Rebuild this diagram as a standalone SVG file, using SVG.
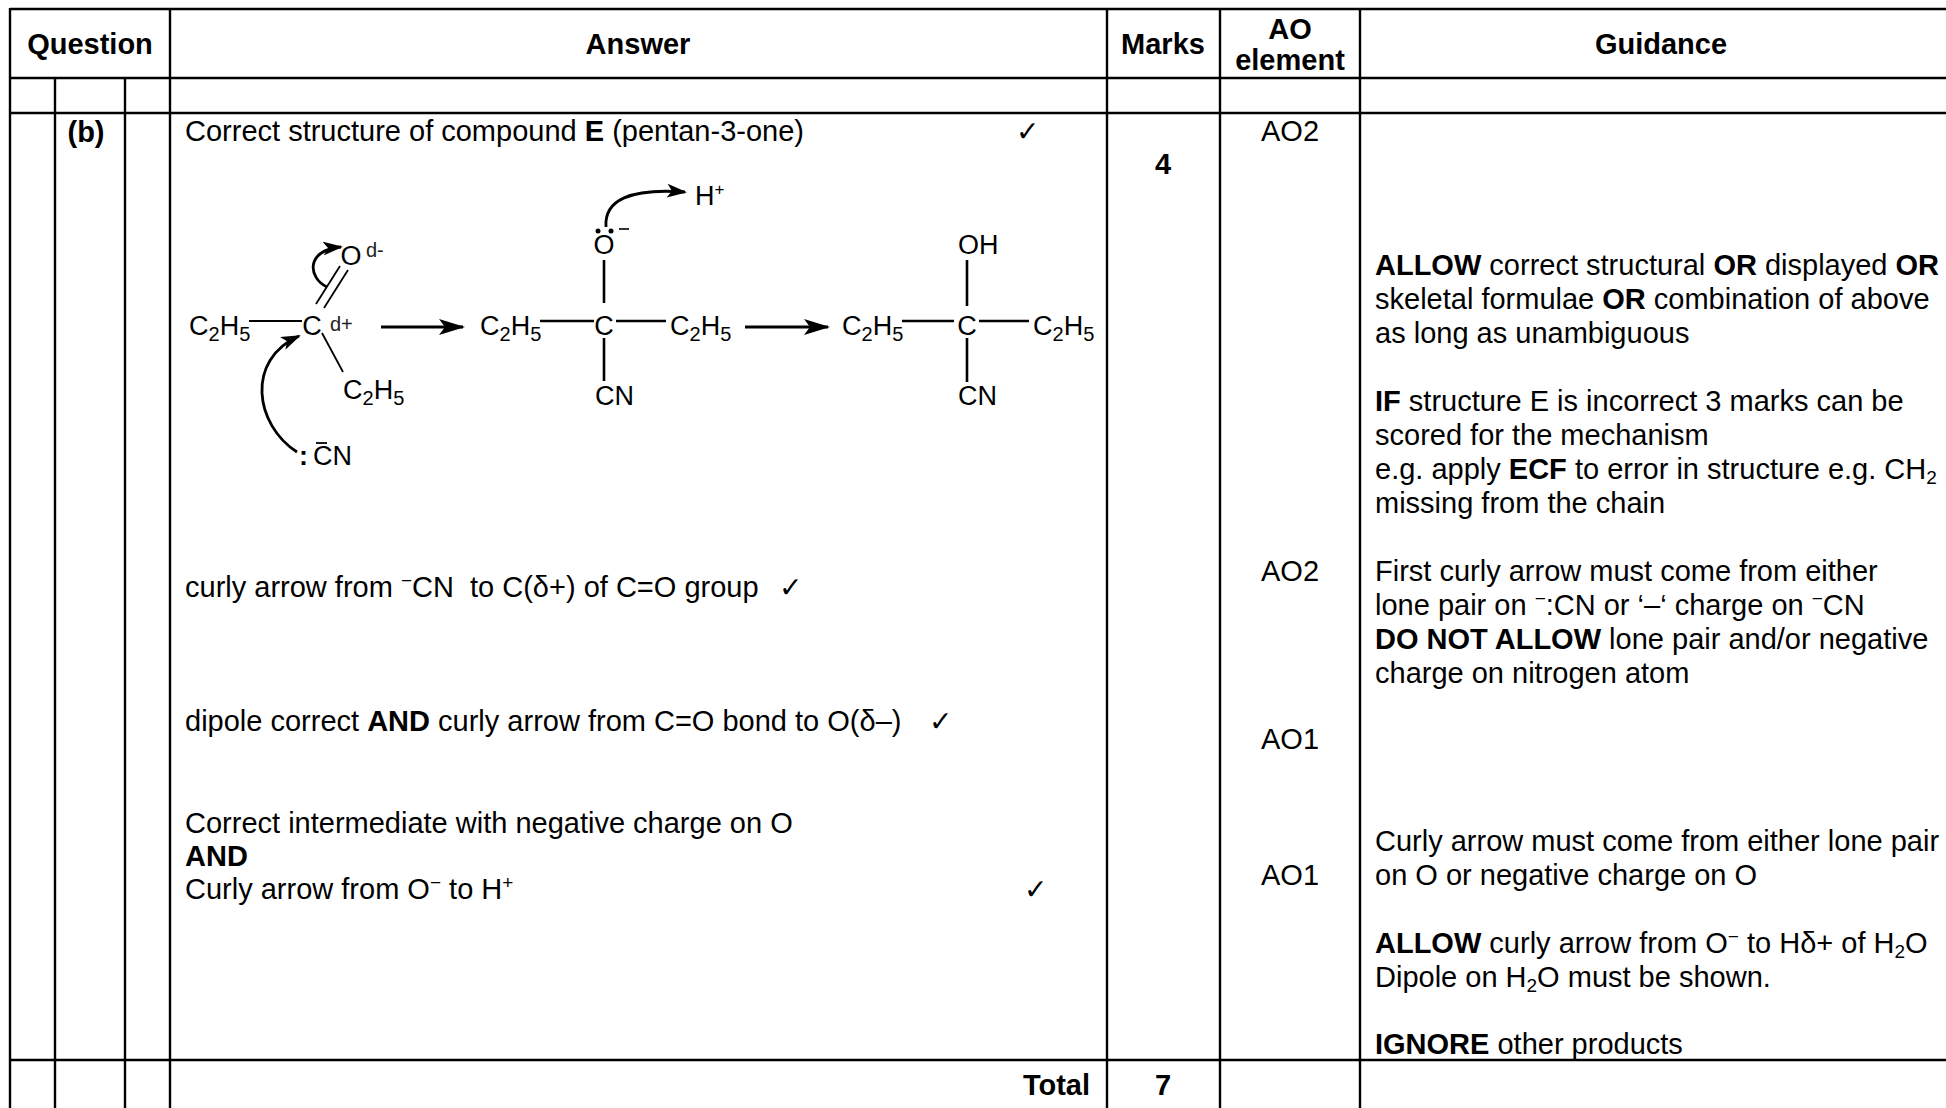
<svg xmlns="http://www.w3.org/2000/svg" width="1946" height="1108" viewBox="0 0 1946 1108">
<defs>
<style>
text{font-family:'Liberation Sans',Arial,sans-serif;fill:#000;white-space:pre}
.t{font-size:29px}
.b{font-weight:bold}
.m{text-anchor:middle}
.e{text-anchor:end}
.ch{font-size:27px}
.dl{font-size:20px;fill:#222}
.ck{font-family:'DejaVu Sans',sans-serif;font-size:28px}
.grid line{stroke:#000;stroke-width:2.4}
.bond{stroke:#000;stroke-width:2.6;fill:none}
.thin{stroke:#000;stroke-width:1.8;fill:none}
.arr{stroke:#000;stroke-width:3;fill:none}
.curly{stroke:#000;stroke-width:2.8;fill:none}
</style>
<marker id="big" viewBox="0 0 26 16" refX="24" refY="8" markerWidth="26" markerHeight="16" markerUnits="userSpaceOnUse" orient="auto">
<path d="M0,0 L26,8 L0,16 L6,8 Z" fill="#000"/>
</marker>
<marker id="head" viewBox="0 0 20 14" refX="18" refY="7" markerWidth="20" markerHeight="14" markerUnits="userSpaceOnUse" orient="auto">
<path d="M0,0 L20,7 L0,14 L5,7 Z" fill="#000"/>
</marker>
</defs>
<rect width="1946" height="1108" fill="#fff"/>

<g id="grid" class="grid">
<line x1="10" y1="9" x2="1946" y2="9"/>
<line x1="10" y1="78" x2="1946" y2="78"/>
<line x1="10" y1="113" x2="1946" y2="113"/>
<line x1="10" y1="1060" x2="1946" y2="1060"/>
<line x1="10" y1="8" x2="10" y2="1108"/>
<line x1="55" y1="78" x2="55" y2="1108"/>
<line x1="125" y1="78" x2="125" y2="1108"/>
<line x1="170" y1="8" x2="170" y2="1108"/>
<line x1="1107" y1="8" x2="1107" y2="1108"/>
<line x1="1220" y1="8" x2="1220" y2="1108"/>
<line x1="1360" y1="8" x2="1360" y2="1108"/>
</g>

<g id="header">
<text class="t b m" x="90" y="54">Question</text>
<text class="t b m" x="638" y="54">Answer</text>
<text class="t b m" x="1163" y="54">Marks</text>
<text class="t b m" x="1290" y="39">AO</text>
<text class="t b m" x="1290" y="70">element</text>
<text class="t b m" x="1661" y="54">Guidance</text>
</g>

<g id="question">
<text class="t b m" x="86" y="142">(b)</text>
</g>

<g id="answer">
<text class="t" x="185" y="141">Correct structure of compound <tspan class="b">E</tspan> (pentan-3-one)</text>
<text class="ck" x="1016" y="141">✓</text>
<text class="t" x="185" y="597">curly arrow from <tspan font-size="19" dy="-10">−</tspan><tspan dy="10">CN  to C(δ+) of C=O group</tspan></text>
<text class="ck" x="779" y="597">✓</text>
<text class="t" x="185" y="731">dipole correct <tspan class="b">AND</tspan> curly arrow from C=O bond to O(δ–)</text>
<text class="ck" x="929" y="731">✓</text>
<text class="t" x="185" y="833">Correct intermediate with negative charge on O</text>
<text class="t b" x="185" y="866">AND</text>
<text class="t" x="185" y="899">Curly arrow from O<tspan font-size="19" dy="-10">−</tspan><tspan dy="10"> to H</tspan><tspan font-size="19" dy="-10">+</tspan></text>
<text class="ck" x="1024" y="899">✓</text>
</g>

<g id="mechanism">
<text class="ch" x="189" y="335">C<tspan font-size="20" dy="6">2</tspan><tspan dy="-6">H</tspan><tspan font-size="20" dy="6">5</tspan></text>
<line class="thin" x1="249" y1="321" x2="302" y2="321"/>
<text class="ch m" x="312" y="335">C</text>
<text class="dl" x="330" y="331">d+</text>
<line class="thin" x1="316" y1="304" x2="340" y2="266"/>
<line class="thin" x1="324" y1="308" x2="348" y2="270"/>
<text class="ch m" x="351" y="265">O</text>
<text class="dl" x="366" y="257">d-</text>
<line class="thin" x1="322" y1="333" x2="343" y2="372"/>
<text class="ch" x="343" y="399">C<tspan font-size="20" dy="6">2</tspan><tspan dy="-6">H</tspan><tspan font-size="20" dy="6">5</tspan></text>
<text class="ch b" x="299" y="465">:</text>
<text class="ch" x="313" y="465">CN</text>
<line class="thin" x1="316" y1="443" x2="327" y2="443"/>
<text class="ch" x="480" y="335">C<tspan font-size="20" dy="6">2</tspan><tspan dy="-6">H</tspan><tspan font-size="20" dy="6">5</tspan></text>
<line class="bond" x1="540" y1="321" x2="594" y2="321"/>
<text class="ch m" x="604" y="335">C</text>
<line class="bond" x1="616" y1="321" x2="666" y2="321"/>
<text class="ch" x="670" y="335">C<tspan font-size="20" dy="6">2</tspan><tspan dy="-6">H</tspan><tspan font-size="20" dy="6">5</tspan></text>
<line class="bond" x1="604" y1="260" x2="604" y2="303"/>
<line class="bond" x1="604" y1="338" x2="604" y2="381"/>
<text class="ch m" x="604" y="254">O</text>
<circle cx="598" cy="231" r="2.5"/>
<circle cx="611" cy="231" r="2.5"/>
<line x1="619" y1="229" x2="629" y2="229" stroke="#000" stroke-width="1.6"/>
<text class="ch" x="595" y="405">CN</text>
<text class="ch" x="695" y="205">H<tspan font-size="17" dy="-10">+</tspan></text>
<text class="ch" x="842" y="335">C<tspan font-size="20" dy="6">2</tspan><tspan dy="-6">H</tspan><tspan font-size="20" dy="6">5</tspan></text>
<line class="bond" x1="902" y1="321" x2="954" y2="321"/>
<text class="ch m" x="967" y="335">C</text>
<line class="bond" x1="979" y1="321" x2="1029" y2="321"/>
<text class="ch" x="1033" y="335">C<tspan font-size="20" dy="6">2</tspan><tspan dy="-6">H</tspan><tspan font-size="20" dy="6">5</tspan></text>
<line class="bond" x1="967" y1="260" x2="967" y2="306"/>
<line class="bond" x1="967" y1="338" x2="967" y2="382"/>
<text class="ch" x="958" y="254">OH</text>
<text class="ch" x="958" y="405">CN</text>
</g>

<g id="connectors">
<line class="arr" x1="381" y1="327" x2="463" y2="327" marker-end="url(#big)"/>
<line class="arr" x1="745" y1="327" x2="828" y2="327" marker-end="url(#big)"/>
<path class="curly" d="M297,452 C255,425 245,360 299,336" marker-end="url(#head)"/>
<path class="curly" d="M327,287 C308,278 305,250 341,247" marker-end="url(#head)"/>
<path class="curly" d="M606,227 C604,200 630,188 685,192" marker-end="url(#head)"/>
</g>

<g id="marks">
<text class="t b m" x="1163" y="174">4</text>
</g>

<g id="ao">
<text class="t m" x="1290" y="141">AO2</text>
<text class="t m" x="1290" y="581">AO2</text>
<text class="t m" x="1290" y="749">AO1</text>
<text class="t m" x="1290" y="885">AO1</text>
</g>

<g id="guidance">
<text class="t" x="1375" y="275"><tspan class="b">ALLOW</tspan> correct structural <tspan class="b">OR</tspan> displayed <tspan class="b">OR</tspan></text>
<text class="t" x="1375" y="309">skeletal formulae <tspan class="b">OR</tspan> combination of above</text>
<text class="t" x="1375" y="343">as long as unambiguous</text>
<text class="t" x="1375" y="411"><tspan class="b">IF</tspan> structure E is incorrect 3 marks can be</text>
<text class="t" x="1375" y="445">scored for the mechanism</text>
<text class="t" x="1375" y="479">e.g. apply <tspan class="b">ECF</tspan> to error in structure e.g. CH<tspan font-size="19" dy="5">2</tspan></text>
<text class="t" x="1375" y="513">missing from the chain</text>
<text class="t" x="1375" y="581">First curly arrow must come from either</text>
<text class="t" x="1375" y="615">lone pair on <tspan font-size="19" dy="-10">−</tspan><tspan dy="10">:CN or ‘–‘ charge on </tspan><tspan font-size="19" dy="-10">−</tspan><tspan dy="10">CN</tspan></text>
<text class="t" x="1375" y="649"><tspan class="b">DO NOT ALLOW</tspan> lone pair and/or negative</text>
<text class="t" x="1375" y="683">charge on nitrogen atom</text>
<text class="t" x="1375" y="851">Curly arrow must come from either lone pair</text>
<text class="t" x="1375" y="885">on O or negative charge on O</text>
<text class="t" x="1375" y="953"><tspan class="b">ALLOW</tspan> curly arrow from O<tspan font-size="19" dy="-10">−</tspan><tspan dy="10"> to Hδ+ of H</tspan><tspan font-size="19" dy="5">2</tspan><tspan dy="-5">O</tspan></text>
<text class="t" x="1375" y="987">Dipole on H<tspan font-size="19" dy="5">2</tspan><tspan dy="-5">O must be shown.</tspan></text>
<text class="t" x="1375" y="1054"><tspan class="b">IGNORE</tspan> other products</text>
</g>

<g id="total">
<text class="t b e" x="1090" y="1095">Total</text>
<text class="t b m" x="1163" y="1095">7</text>
</g>
</svg>
